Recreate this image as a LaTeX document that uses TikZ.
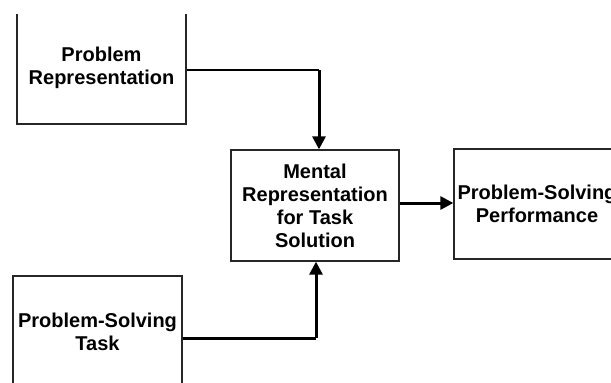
\documentclass[tikz,border=0pt]{standalone}
\usepackage{fontspec}
\setmainfont{Liberation Sans}
\usetikzlibrary{arrows.meta}
\begin{document}
\begin{tikzpicture}[x=1pt,y=-1pt,
  box/.style={draw=black!85, line width=1.3pt, rectangle, inner sep=0pt,
    align=center, font=\fontsize{20}{23}\selectfont\bfseries},
  thin/.style={line width=1.2pt},
  thick arrow/.style={line width=3pt, -{Triangle[length=13pt,width=13pt]}}]
  \useasboundingbox (0,0) rectangle (611,383);
  \clip (0,14) rectangle (611,383);
  % boxes
  \node[box, minimum width=169pt, minimum height=112pt] (rep) at (101.5,68) {Problem\\Representation};
  \node[box, minimum width=168pt, minimum height=111pt] (mental) at (315,205.5) {Mental\\Representation\\for Task\\Solution};
  \node[box, minimum width=166pt, minimum height=110pt] (perf) at (537,204) {Problem-Solving\\Performance};
  \node[box, minimum width=169pt, minimum height=112pt] (task) at (97.5,332) {Problem-Solving\\Task};
  % connectors
  \coordinate (repout) at (rep.east |- 0,70);
  \coordinate (bendtop) at (319,70);
  \coordinate (taskout) at (task.east |- 0,338);
  \coordinate (bendbot) at (316,338);
  \draw[thin] (repout) -- (bendtop);
  \draw[thick arrow] (bendtop) -- (bendtop |- mental.north);
  \draw[line width=3pt] (taskout) -- (bendbot);
  \draw[thick arrow] (bendbot) -- (bendbot |- mental.south);
  \draw[thick arrow] (mental.east |- 0,203) -- (perf.west |- 0,203);
\end{tikzpicture}
\end{document}
